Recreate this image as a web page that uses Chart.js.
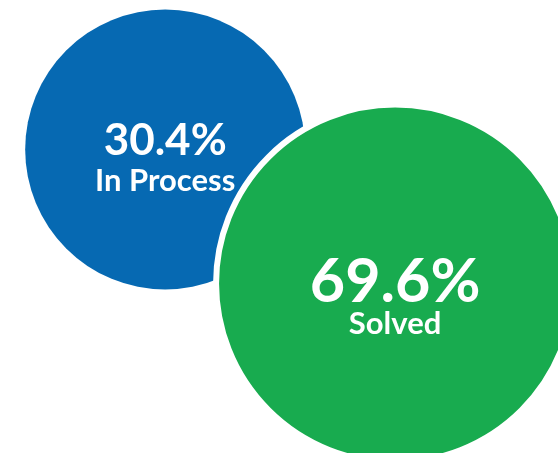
<!DOCTYPE html>
<html lang="en">
<head>
    <meta charset="UTF-8">
    <title>Ticket Status</title>
    <script src="https://cdn.jsdelivr.net/npm/chart.js"></script>
    <style>
        body {
            margin: 0;
            background: #fff;
        }
        #chart-container {
            width: 558px;
            height: 453px;
        }
    </style>
</head>
<body>
    <div id="chart-container">
        <canvas id="statusChart" width="558" height="453"></canvas>
    </div>
    <script>
        // Chart data
        const labels = ['In Process', 'Solved'];
        const percents = [30.4, 69.6];
        // bubble placement in axis units (0-100 both ways) and radius in px
        const bubbleX = [29.6, 70.8];
        const bubbleY = [33.0, 62.6];
        const bubbleR = [140, 179];
        const colors = ['#0669b2', '#18ab4f'];

        // Draw the percentage and the label in the middle of each bubble
        const bubbleText = {
            id: 'bubbleText',
            afterDatasetsDraw(chart) {
                const ctx = chart.ctx;
                const meta = chart.getDatasetMeta(0);
                ctx.save();
                ctx.fillStyle = '#fff';
                ctx.textAlign = 'center';
                ctx.textBaseline = 'alphabetic';
                meta.data.forEach((pt, i) => {
                    const big = i === 1;
                    ctx.font = 'bold ' + (big ? 61 : 44) + 'px Lato';
                    ctx.fillText(percents[i].toFixed(1) + '%', pt.x, pt.y + (big ? 18 : 5.5));
                    ctx.font = 'bold 31px Lato';
                    ctx.fillText(labels[i], pt.x, pt.y + (big ? 50 : 41.5));
                });
                ctx.restore();
            }
        };

        const ctx = document.getElementById('statusChart').getContext('2d');
        new Chart(ctx, {
            type: 'bubble',
            data: {
                labels: labels,
                datasets: [{
                    data: labels.map((l, i) => ({ x: bubbleX[i], y: bubbleY[i], r: bubbleR[i] })),
                    backgroundColor: colors,
                    borderColor: '#fff',
                    borderWidth: [0, 6],
                    hoverRadius: 0,
                    clip: false
                }]
            },
            options: {
                responsive: false,
                animation: false,
                layout: { padding: 0, autoPadding: false },
                plugins: {
                    legend: { display: false },
                    tooltip: { enabled: false }
                },
                scales: {
                    x: { display: false, min: 0, max: 100 },
                    y: { display: false, min: 0, max: 100, reverse: true }
                }
            },
            plugins: [bubbleText]
        });
    </script>
</body>
</html>
